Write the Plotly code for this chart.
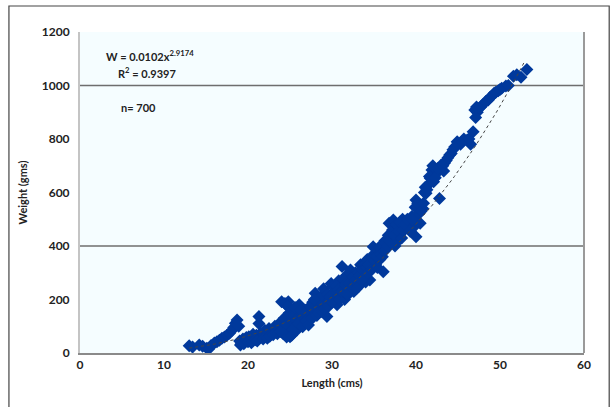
import numpy as np
import plotly.graph_objects as go

# Fish length (cm) and weight (g) observations
length_cm = [
    13.0, 13.4, 14.2, 14.6, 15.1, 15.3, 15.6, 16.0, 16.3, 16.6, 16.9, 17.2, 17.5, 17.8,
    18.1, 18.3, 18.5, 18.7, 18.9, 19.0, 19.2, 19.4, 19.6, 19.8, 20.1, 20.3, 20.6, 20.8,
    21.0, 21.3, 21.3, 21.5, 21.7, 22.0, 22.2, 22.5, 22.7, 22.9, 23.2, 23.4, 23.7, 24.0,
    24.1, 24.3, 24.5, 24.8, 24.9, 25.0, 25.1, 25.3, 25.5, 25.7, 25.9, 26.1, 26.2, 26.4,
    26.6, 26.8, 27.0, 27.1, 27.3, 27.5, 27.7, 27.8, 28.0, 28.1, 28.3, 28.5, 28.7, 28.9,
    29.0, 29.2, 29.4, 29.5, 29.7, 29.9, 30.1, 30.2, 30.4, 30.6, 30.8, 31.0, 31.2, 31.3,
    31.5, 31.7, 31.9, 32.1, 32.2, 32.4, 32.6, 32.8, 33.0, 33.2, 33.4, 33.6, 33.8, 34.0,
    34.2, 34.5, 34.6, 34.9, 35.0, 35.2, 35.5, 35.7, 35.9, 36.1, 36.3, 36.5, 36.8, 37.0,
    37.2, 37.3, 37.6, 37.8, 38.0, 38.2, 38.4, 38.6, 38.9, 39.2, 39.5, 39.7, 40.0, 40.0,
    40.3, 40.5, 40.8, 41.0, 41.2, 41.5, 41.7, 41.9, 42.1, 42.4, 42.8, 43.0, 43.3, 43.6,
    44.0, 44.2, 44.6, 44.9, 45.3, 45.7, 46.1, 46.5, 46.8, 47.0, 47.3, 47.5, 48.0, 48.6,
    49.0, 49.3, 49.8, 50.2, 50.7, 51.6, 52.5, 53.2,
    19.1, 19.5, 20.0, 20.4, 20.9, 21.1, 21.8, 22.3, 22.6, 23.0, 23.5, 23.9, 24.2, 24.6,
    25.2, 25.4, 25.8, 26.0, 26.5, 26.9, 27.2, 27.6, 28.2, 28.4, 28.8, 29.1, 29.3, 29.6,
    29.8, 30.0, 30.3, 30.5, 30.7, 30.9, 31.1, 31.4, 31.6, 31.8, 32.0, 32.3, 32.5, 32.7,
    32.9, 33.1, 33.3, 33.5, 33.7, 33.9, 34.1, 34.3, 34.4, 34.7, 34.8, 35.1, 35.3, 35.4,
    35.6, 35.8, 36.0, 36.2, 36.4, 36.6, 36.7, 36.9, 37.1, 37.4, 37.5, 37.7, 37.9, 38.1,
    38.3, 38.5, 38.7, 39.0, 39.3, 39.6, 39.9, 40.2, 40.6, 40.9, 41.1, 41.3, 41.6, 42.0,
    42.3, 42.6, 43.2, 43.4, 43.8, 44.4, 45.0, 45.5, 46.3, 47.1, 47.2, 47.7, 48.3, 48.8,
    49.5, 50.0, 51.0, 52.0, 24.4, 24.7, 25.6, 26.3, 27.4, 27.9,
]
weight_g = [
    27, 22, 30, 25, 18, 14, 28, 37, 42, 48, 55, 60, 66, 74,
    85, 95, 111, 123, 100, 45, 37, 52, 40, 58, 61, 48, 70, 55,
    66, 136, 110, 74, 60, 85, 70, 92, 78, 74, 100, 88, 110, 192,
    95, 130, 105, 192, 150, 61, 80, 120, 140, 123, 100, 180, 155, 130,
    110, 160, 145, 123, 170, 150, 190, 135, 223, 175, 200, 160, 210, 186,
    240, 170, 136, 220, 195, 260, 248, 205, 230, 180, 270, 215, 323, 250,
    200, 290, 240, 224, 310, 265, 230, 300, 280, 250, 330, 323, 300, 265,
    350, 273, 340, 397, 370, 330, 380, 350, 400, 304, 420, 390, 485, 430,
    460, 497, 410, 470, 440, 447, 500, 470, 497, 480, 510, 470, 572, 435,
    520, 485, 540, 600, 597, 630, 653, 684, 640, 670, 578, 703, 680, 720,
    740, 746, 770, 790, 780, 800, 796, 780, 827, 908, 900, 915, 930, 946,
    960, 971, 980, 990, 998, 1035, 1031, 1060,
    30, 35, 42, 38, 50, 45, 52, 55, 63, 68, 72, 80, 72, 60,
    66, 90, 85, 110, 98, 120, 105, 130, 140, 150, 155, 165, 185, 175,
    210, 190, 215, 250, 235, 200, 230, 275, 255, 220, 260, 245, 285, 270,
    240, 300, 290, 270, 310, 285, 320, 300, 330, 310, 355, 345, 360, 320,
    395, 370, 360, 380, 410, 400, 440, 420, 450, 440, 400, 480, 455, 490,
    430, 460, 480, 500, 455, 500, 545, 560, 530, 560, 620, 610, 660, 700,
    655, 690, 700, 710, 730, 760, 785, 790, 800, 880, 920, 920, 940, 955,
    975, 985, 1000, 1040, 185, 175, 170, 160, 175, 200,
]

# Power-law fit W = a * L^b
fit_a = 0.0102
fit_b = 2.9174
fit_r2 = 0.9397
n_fish = 700
fit_range = [13.0, 53.0]

x_ticks = [0, 10, 20, 30, 40, 50, 60]
y_ticks = [0, 200, 400, 600, 800, 1000, 1200]
grid_levels = [400, 1000]

fit_x = np.linspace(fit_range[0], fit_range[1], 200)
fit_y = fit_a * fit_x ** fit_b

font_family = "Lato, 'Open Sans', sans-serif"
bold = dict(family=font_family, size=12, color="#222222", weight="bold")
note = dict(family=font_family, size=11, color="#222222", weight="bold")

fig = go.Figure()

fig.add_trace(go.Scatter(
    x=length_cm, y=weight_g, mode="markers",
    marker=dict(symbol="diamond", size=10, color="#00399c", line=dict(width=0)),
    showlegend=False, hoverinfo="x+y",
))

fig.add_trace(go.Scatter(
    x=fit_x, y=fit_y, mode="lines",
    line=dict(color="#444444", width=1, dash="dot"),
    showlegend=False, hoverinfo="skip",
))

shapes = []
for lvl in grid_levels:
    shapes.append(dict(type="line", xref="paper", yref="y", x0=0, x1=1, y0=lvl, y1=lvl,
                       line=dict(color="#6e6e6e", width=1.5), layer="below"))
# right edge of plot area
shapes.append(dict(type="line", xref="paper", yref="paper", x0=1, x1=1, y0=0, y1=1,
                   line=dict(color="#9a9a9a", width=2)))
# outer chart frame
shapes.append(dict(type="rect", xref="paper", yref="paper", x0=-0.141, x1=1.05, y0=-0.3, y1=1.081,
                   line=dict(color="#444444", width=1.2), fillcolor="rgba(0,0,0,0)"))

annotations = [
    dict(xref="paper", yref="paper", x=(104 - 80) / 504, y=(353 - 55) / 321, xanchor="left", yanchor="middle",
         text=f"W = {fit_a}x<sup>{fit_b}</sup>", showarrow=False, font=note),
    dict(xref="paper", yref="paper", x=(116 - 80) / 504, y=(353 - 72) / 321, xanchor="left", yanchor="middle",
         text=f"R<sup>2</sup> = {fit_r2}", showarrow=False, font=note),
    dict(xref="paper", yref="paper", x=(119 - 80) / 504, y=(353 - 107) / 321, xanchor="left", yanchor="middle",
         text=f"n= {n_fish}", showarrow=False, font=note),
]

fig.update_layout(
    width=610, height=407,
    margin=dict(l=80, r=26, t=32, b=54),
    paper_bgcolor="white",
    plot_bgcolor="#f5fdff",
    font=bold,
    shapes=shapes,
    annotations=annotations,
    xaxis=dict(
        range=[0, 60], tickvals=x_ticks, showgrid=False, zeroline=False,
        showline=True, linecolor="#8a8a8a", linewidth=2, ticks="",
        tickfont=bold, title=dict(text="Length (cms)", font=note, standoff=8),
    ),
    yaxis=dict(
        range=[0, 1200], tickvals=y_ticks, showgrid=False, zeroline=False,
        showline=True, linecolor="#c4c4c4", linewidth=2, ticks="",
        tickfont=bold, ticklabelstandoff=6,
        title=dict(text="Weight (gms)", font=note, standoff=12),
    ),
)

fig.write_html("out.html")
